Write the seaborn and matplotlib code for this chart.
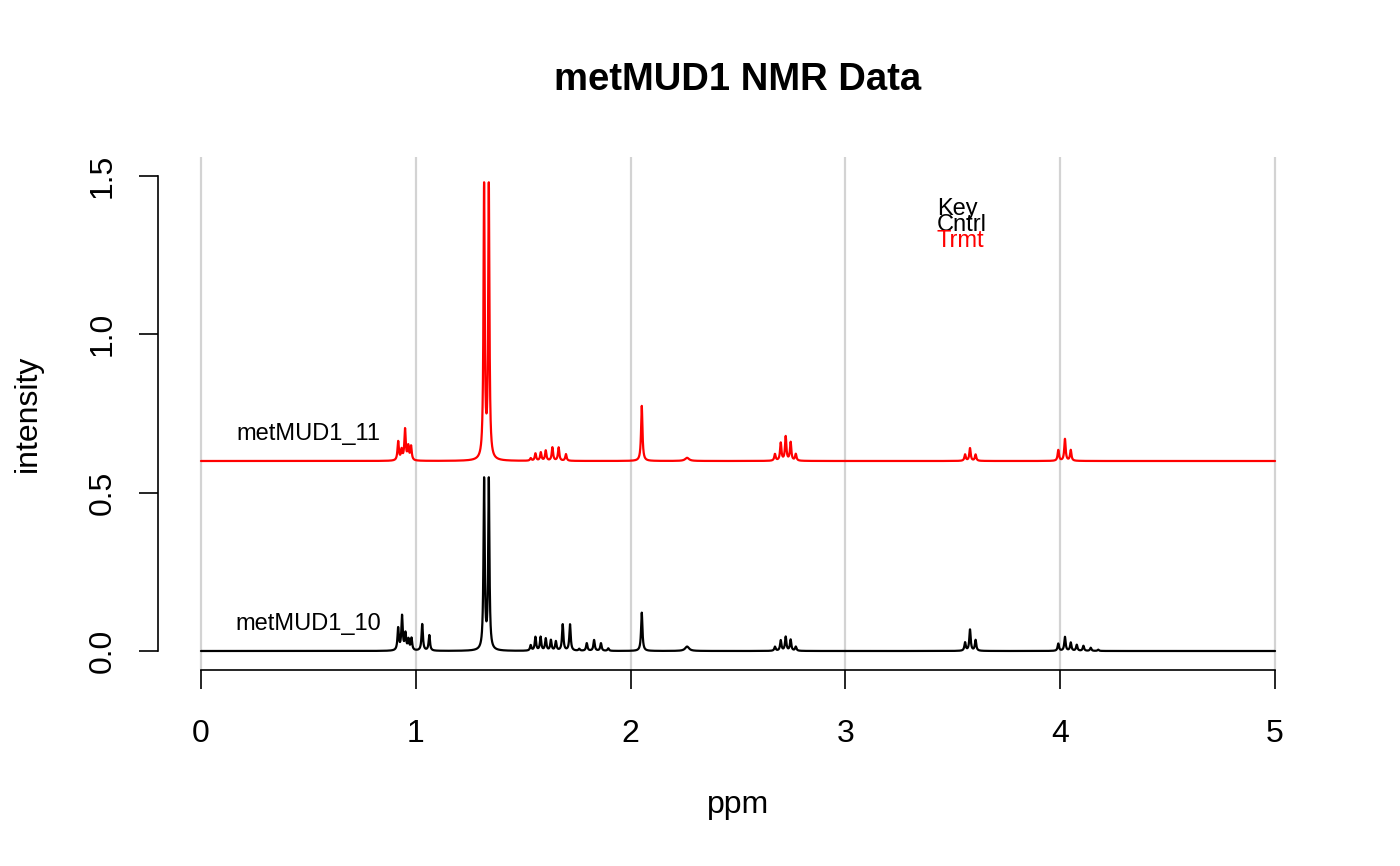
import numpy as np
import pandas as pd
import matplotlib
matplotlib.use('Agg')
import matplotlib.pyplot as plt
import seaborn as sns

# Peak tables (ppm position, height above baseline, half-width)
ctrl_ppm = [0.918, 0.936, 0.952, 0.966, 0.980, 1.030, 1.063, 1.318, 1.340,
            1.535, 1.557, 1.581, 1.605, 1.629, 1.652, 1.684, 1.718, 1.761,
            1.796, 1.830, 1.862, 1.896, 2.052, 2.263,
            2.672, 2.699, 2.722, 2.745, 2.769,
            3.557, 3.580, 3.606,
            3.991, 4.022, 4.049, 4.077, 4.108, 4.142, 4.177]
ctrl_height = [0.070, 0.108, 0.052, 0.033, 0.038, 0.084, 0.049, 0.536, 0.536,
               0.017, 0.043, 0.043, 0.038, 0.033, 0.029, 0.083, 0.083, 0.006,
               0.024, 0.034, 0.024, 0.008, 0.121, 0.014,
               0.013, 0.033, 0.044, 0.035, 0.013,
               0.026, 0.067, 0.034,
               0.023, 0.044, 0.026, 0.019, 0.016, 0.010, 0.004]
ctrl_width = [0.0038] * 7 + [0.0034] * 2 + [0.0038] * 14 + [0.011] + [0.0038] * 15

trmt_ppm = [0.918, 0.934, 0.950, 0.965, 0.978, 1.318, 1.340,
            1.535, 1.557, 1.582, 1.605, 1.636, 1.665, 1.699,
            2.052, 2.263,
            2.672, 2.699, 2.722, 2.745, 2.769,
            3.557, 3.580, 3.606,
            3.991, 4.022, 4.049]
trmt_height = [0.060, 0.032, 0.098, 0.043, 0.044, 0.860, 0.860,
               0.008, 0.023, 0.026, 0.032, 0.042, 0.042, 0.021,
               0.174, 0.010,
               0.021, 0.056, 0.076, 0.058, 0.021,
               0.020, 0.040, 0.020,
               0.034, 0.069, 0.034]
trmt_width = [0.0038] * 5 + [0.0034] * 2 + [0.0038] * 8 + [0.011] + [0.0038] * 11

sample_names = ['metMUD1_10', 'metMUD1_11']
groups = ['Cntrl', 'Trmt']
offsets = [0.0, 0.6]


def spectrum(ppm, pos, height, width):
    y = np.zeros_like(ppm)
    for p, h, w in zip(pos, height, width):
        y += h * w**2 / ((ppm - p)**2 + w**2)
    return y


ppm = np.linspace(0, 5, 10001)
frames = []
tables = [(ctrl_ppm, ctrl_height, ctrl_width), (trmt_ppm, trmt_height, trmt_width)]
for g, off, (pos, h, w) in zip(groups, offsets, tables):
    frames.append(pd.DataFrame({'ppm': ppm,
                                'intensity': spectrum(ppm, pos, h, w) + off,
                                'group': g}))
df = pd.concat(frames, ignore_index=True)

sns.set_theme(style='white')
plt.rcParams['font.family'] = ['Liberation Sans', 'DejaVu Sans']
plt.rcParams['text.color'] = 'black'

fig = plt.figure(figsize=(14, 8.66), dpi=100)
ax = fig.add_axes([158 / 1400, 1 - 670 / 866, 1160 / 1400, 513 / 866])

# vertical grid first so spectra sit on top
for x in range(6):
    ax.axvline(x, color='#d3d3d3', lw=1.6, zorder=0)

sns.lineplot(data=df, x='ppm', y='intensity', hue='group',
             palette={'Cntrl': 'black', 'Trmt': 'red'},
             estimator=None, sort=False, lw=1.6, legend=False, ax=ax)

ax.set_xlim(-0.2, 5.2)
ax.set_ylim(-0.06, 1.56)
ax.set_xticks(range(6))
ax.set_yticks([0, 0.5, 1.0, 1.5])
ax.set_xticklabels([str(i) for i in range(6)])
ax.set_yticklabels(['0.0', '0.5', '1.0', '1.5'])

for s in ['top', 'right']:
    ax.spines[s].set_visible(False)
ax.spines['left'].set_bounds(0, 1.5)
ax.spines['bottom'].set_bounds(0, 5)
for s in ['left', 'bottom']:
    ax.spines[s].set_color('black')
    ax.spines[s].set_linewidth(1.2)

ax.tick_params(axis='both', direction='out', length=14, width=1.2,
               color='black', labelsize=23, labelcolor='black',
               bottom=True, left=True)
ax.tick_params(axis='x', pad=21)
ax.tick_params(axis='y', pad=15, labelrotation=90)
for lab in ax.get_yticklabels():
    lab.set_va('center')

ax.set_xlabel('ppm', fontsize=23, color='black')
ax.set_ylabel('intensity', fontsize=23, color='black')
ax.xaxis.label.set_va('center')
ax.yaxis.label.set_va('center')
ax.xaxis.set_label_coords(0.5, -135 / 513)
ax.yaxis.set_label_coords(-130 / 1160, 0.5)

# sample labels above each trace
for name, off in zip(sample_names, offsets):
    ax.text(0.5, off + 0.085, name, fontsize=17, ha='center', va='center',
            color='black')

# key (lines packed tightly, as in the original)
ax.text(3.426, 1.396, 'Key', fontsize=17, ha='left', va='center', color='black')
ax.text(3.426, 1.345, 'Cntrl', fontsize=17, ha='left', va='center', color='black')
ax.text(3.426, 1.295, 'Trmt', fontsize=17, ha='left', va='center', color='red')

fig.text(738 / 1400, 1 - 80 / 866, 'metMUD1 NMR Data', fontsize=27.5,
         fontweight='bold', ha='center', va='center', color='black')

fig.savefig('out.png', dpi=100)
